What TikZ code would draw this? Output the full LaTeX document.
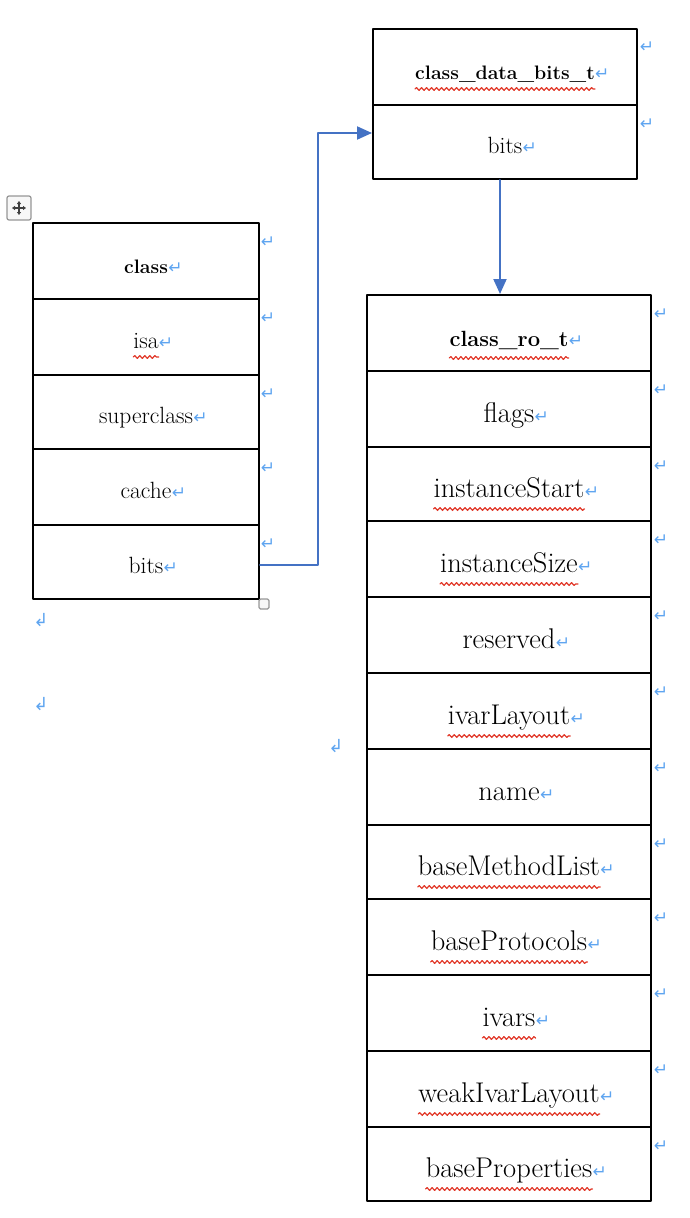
\documentclass[tikz,border=0pt]{standalone}
\usepackage{fontspec}
\newfontfamily\markfont{DejaVu Sans}
\usetikzlibrary{arrows.meta,decorations.pathmorphing}

\definecolor{markblue}{RGB}{95,165,240}
\definecolor{linkblue}{RGB}{68,114,196}
\definecolor{spellred}{RGB}{225,55,40}
\definecolor{handlegray}{RGB}{150,150,150}

\tikzset{
  cell/.style={draw,line width=2pt,rectangle,inner sep=0pt,anchor=north},
  smalltxt/.style={font=\fontsize{23.5}{26}\selectfont,inner sep=0pt,anchor=base},
  smallhead/.style={font=\fontsize{19.5}{22}\selectfont\bfseries,inner sep=0pt,anchor=base},
  bigtxt/.style={font=\fontsize{28.5}{32}\selectfont,inner sep=0pt,anchor=base},
  bighead/.style={font=\fontsize{22}{26}\selectfont\bfseries,inner sep=0pt,anchor=base},
  cellmark/.style={text=markblue,font=\markfont\fontsize{17}{18}\selectfont,inner sep=0pt},
  endmark/.style={text=markblue,font=\markfont\fontsize{18}{19}\selectfont,inner sep=0pt},
  squiggle/.style={spellred,line width=1.2pt,decorate,
    decoration={snake,amplitude=1.4pt,segment length=5pt}},
  link/.style={linkblue,line width=2pt,-{Triangle[length=15pt,width=13pt]}},
}

\begin{document}
\begin{tikzpicture}[x=1pt,y=-1pt,line cap=round,line join=round]
  \useasboundingbox (0,0) rectangle (690,1218);

  % Tabla class
  \node[cell,minimum width=226,minimum height=76] (cls) at (146,222) {};
  \node[smallhead] (clstxt) at ([yshift=-12pt]cls.center) {class};
  \node[cellmark,anchor=base west] at (clstxt.base east) {↵};
  \node[cellmark] at (268,242) {↵};
  \foreach \txt/\sq/\top/\h [count=\i] in {isa/1/298/76,superclass/0/374/74,
      cache/0/448/76,bits/0/524/74} {
    \node[cell,minimum width=226,minimum height=\h] (cls\i) at (146,\top) {};
    \node[smalltxt] (clstxt\i) at ([yshift=-11pt]cls\i.center) {\txt};
    \node[cellmark,anchor=base west] at (clstxt\i.base east) {↵};
    \node[cellmark] at (268,\top+20) {↵};
    \ifnum\sq=1
      \draw[squiggle] ([yshift=-9pt]clstxt\i.base west) -- ([yshift=-9pt]clstxt\i.base east);
    \fi
  }

  % Tabla class_data_bits_t
  \node[cell,minimum width=264,minimum height=76] (cdb) at (505,28) {};
  \node[smallhead] (cdbtxt) at ([yshift=-12pt]cdb.center) {class\_data\_bits\_t};
  \node[cellmark,anchor=base west] at (cdbtxt.base east) {↵};
  \draw[squiggle] ([yshift=-10pt]cdbtxt.base west) -- ([yshift=-10pt]cdbtxt.base east);
  \node[cell,minimum width=264,minimum height=74] (cdbbits) at (505,104) {};
  \node[smalltxt] (cdbbitstxt) at ([yshift=-11pt]cdbbits.center) {bits};
  \node[cellmark,anchor=base west] at (cdbbitstxt.base east) {↵};
  \node[cellmark] at (647,47) {↵};
  \node[cellmark] at (647,124) {↵};

  % Tabla class_ro_t
  \node[cell,minimum width=284,minimum height=76] (ro) at (509,294) {};
  \node[bighead] (rotxt) at ([yshift=-13pt]ro.center) {class\_ro\_t};
  \node[cellmark,anchor=base west] at (rotxt.base east) {↵};
  \draw[squiggle] ([yshift=-12pt]rotxt.base west) -- ([yshift=-12pt]rotxt.base east);
  \node[cellmark] at (661,314) {↵};
  \foreach \txt/\sq/\top/\h [count=\i] in {flags/0/370/76,instanceStart/1/446/74,
      instanceSize/1/520/76,reserved/0/596/76,ivarLayout/1/672/76,name/0/748/76,
      baseMethodList/1/824/74,baseProtocols/1/898/76,ivars/1/974/76,
      weakIvarLayout/1/1050/76,baseProperties/1/1126/74} {
    \node[cell,minimum width=284,minimum height=\h] (ro\i) at (509,\top) {};
    \node[bigtxt] (rotxt\i) at ([yshift=-13pt]ro\i.center) {\txt};
    \node[cellmark,anchor=base west] at (rotxt\i.base east) {↵};
    \node[cellmark] at (661,\top+20) {↵};
    \ifnum\sq=1
      \draw[squiggle] ([yshift=-12pt]rotxt\i.base west) -- ([yshift=-12pt]rotxt\i.base east);
    \fi
  }

  % Enlaces
  \draw[link] ([yshift=-3pt]cls4.east) -- ++(58,0) |- ([yshift=9pt]cdbbits.west);
  \draw[link] ([xshift=-5pt]cdbbits.south) -- ([xshift=-5pt]cdbbits.south |- ro.north);

  % Marcas de parrafo y tiradores
  \node[endmark] at (41,620) {↲};
  \node[endmark] at (41,704) {↲};
  \node[endmark] at (336,746) {↲};
  \draw[handlegray,line width=1.2pt,fill=gray!6,rounded corners=2pt] (7,196) rectangle (31,220);
  \draw[black!75,line width=1.2pt,{Triangle[length=3pt,width=4pt]}-{Triangle[length=3pt,width=4pt]}] (12,208) -- (26,208);
  \draw[black!75,line width=1.2pt,{Triangle[length=3pt,width=4pt]}-{Triangle[length=3pt,width=4pt]}] (19,201) -- (19,215);
  \draw[handlegray,line width=1.2pt,fill=gray!6,rounded corners=1.5pt] (259,599) rectangle (269,609);
\end{tikzpicture}
\end{document}
